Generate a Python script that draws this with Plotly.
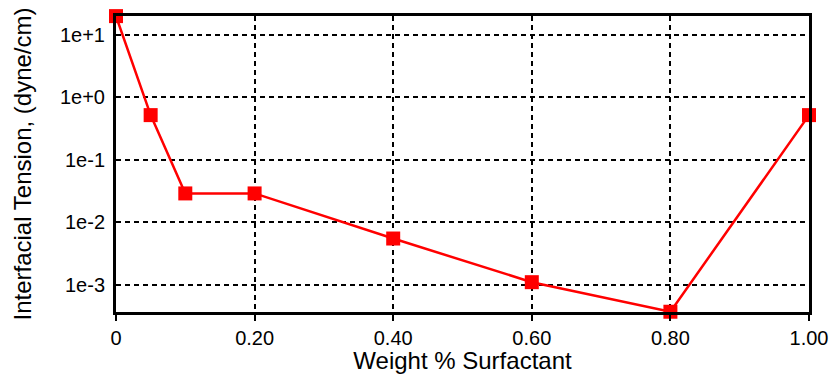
import plotly.graph_objects as go
import numpy as np

x_vals = [0.0, 0.05, 0.10, 0.20, 0.40, 0.60, 0.80, 1.00]
tension = [20.0, 0.52, 0.029, 0.029, 0.0055, 0.0011, 0.00037, 0.52]

x_tickvals = [0, 0.2, 0.4, 0.6, 0.8, 1.0]
x_ticktext = ["0", "0.20", "0.40", "0.60", "0.80", "1.00"]
y_tickvals = [10, 1, 0.1, 0.01, 0.001]
y_ticktext = ["1e+1", "1e+0", "1e-1", "1e-2", "1e-3"]

fig = go.Figure()
fig.add_trace(go.Scatter(
    x=x_vals, y=tension, mode="lines+markers",
    line=dict(color="#ff0000", width=2.5),
    marker=dict(symbol="square", size=14, color="#ff0000"),
    cliponaxis=False, showlegend=False,
))

fam = "Liberation Sans, Arial, sans-serif"
tick_font = dict(family=fam, size=20, color="black")
title_font = dict(family=fam, size=24, color="black")

fig.update_layout(
    width=831, height=374,
    margin=dict(l=116, r=22, t=16, b=62),
    paper_bgcolor="white", plot_bgcolor="white",
    font=tick_font,
    xaxis=dict(
        range=[0, 1.0], tickvals=x_tickvals, ticktext=x_ticktext,
        tickfont=tick_font, automargin=False,
        showgrid=True, gridcolor="black", griddash="5px,4px", gridwidth=2,
        showline=True, linecolor="black", linewidth=3, mirror=True,
        ticks="outside", ticklen=6, tickwidth=2, tickcolor="black",
        zeroline=False,
        title=dict(text="Weight % Surfactant", standoff=0, font=title_font),
    ),
    yaxis=dict(
        type="log", range=[-3.436, 1.303],
        tickvals=y_tickvals, ticktext=y_ticktext,
        tickfont=tick_font, automargin=False, ticklabelstandoff=4,
        showgrid=True, gridcolor="black", griddash="5px,4px", gridwidth=2,
        showline=True, linecolor="black", linewidth=3, mirror=True,
        ticks="", ticklen=0,
        zeroline=False,
        title=dict(text="Interfacial Tension, (dyne/cm)", standoff=22, font=title_font),
    ),
)

fig.write_html("out.html")
